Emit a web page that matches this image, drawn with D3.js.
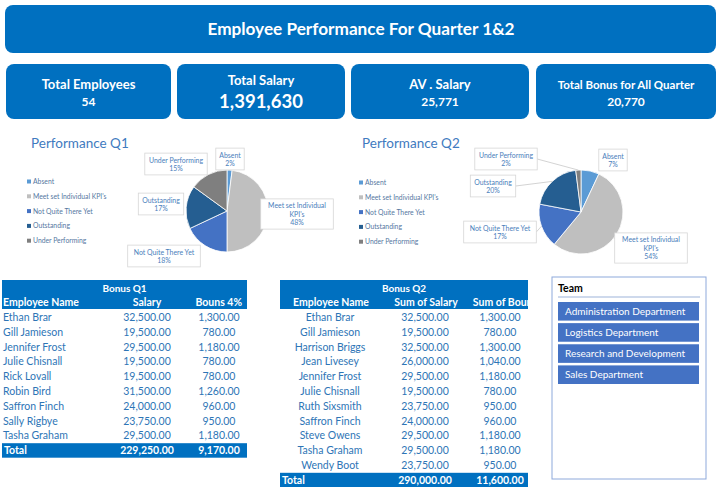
<!DOCTYPE html>
<html><head><meta charset="utf-8">
<script src="https://cdn.jsdelivr.net/npm/d3@7"></script>
<style>body{margin:0;background:#fff}svg{display:block;font-family:Lato,"Open Sans",sans-serif}</style>
</head><body><svg id="c" width="720" height="487"></svg>
<script>
// ---------- DATA ----------
const title = "Employee Performance For Quarter 1&2";
const kpiLabels = ["Total Employees", "Total Salary", "AV . Salary", "Total Bonus for All Quarter"];
const kpiValues = [54, 1391630, 25771, 20770];

const categories = ["Absent", "Meet set Individual KPI's", "Not Quite There Yet", "Outstanding", "Under Performing"];
const q1Values = [2, 48, 18, 17, 15];
const q2Values = [7, 54, 17, 20, 2];

const q1Names = ["Ethan Brar","Gill Jamieson","Jennifer Frost","Julie Chisnall","Rick Lovall","Robin Bird","Saffron Finch","Sally Rigbye","Tasha Graham"];
const q1Salary = [32500,19500,29500,19500,19500,31500,24000,23750,29500];
const q1Bonus = [1300,780,1180,780,780,1260,960,950,1180];
const q1Headers = ["Employee Name","Salary","Bouns 4%"];

const q2Names = ["Ethan Brar","Gill Jamieson","Harrison Briggs","Jean Livesey","Jennifer Frost","Julie Chisnall","Ruth Sixsmith","Saffron Finch","Steve Owens","Tasha Graham","Wendy Boot"];
const q2Salary = [32500,19500,32500,26000,29500,19500,23750,24000,29500,29500,23750];
const q2Bonus = [1300,780,1300,1040,1180,780,950,960,1180,1180,950];
const q2Headers = ["Employee Name","Sum of Salary","Sum of Bouns"];

const teams = ["Administration Department","Logistics Department","Research and Development","Sales Department"];

// ---------- STYLE / LAYOUT ----------
const BLUE = "#0070C0";
const TXT = "#2E75B6";
const sliceColors = ["#5B9BD5","#BFBFBF","#4472C4","#255E91","#7F7F7F"];
const svg = d3.select("#c");
svg.append("rect").attr("width",720).attr("height",487).attr("fill","#fff");

// Title banner
svg.append("rect").attr("x",5).attr("y",5).attr("width",711).attr("height",48).attr("rx",8).attr("fill",BLUE);
svg.append("text").attr("x",361).attr("y",35).attr("text-anchor","middle").attr("fill","#fff")
  .attr("font-weight","bold").attr("font-size",17.2).text(title);

// KPI boxes
const kpiBoxes = [[6,165],[177,168],[351,178],[536,180]];
const fmtInt = d3.format(",");
kpiBoxes.forEach(([x,w],i)=>{
  svg.append("rect").attr("x",x).attr("y",64).attr("width",w).attr("height",55).attr("rx",8).attr("fill",BLUE);
  const cx = x + w/2;
  const big = i===1;
  svg.append("text").attr("x",cx).attr("y",big?85:89).attr("text-anchor","middle").attr("fill","#fff")
    .attr("font-weight","bold").attr("font-size",i===3?11.5:13).text(kpiLabels[i]);
  svg.append("text").attr("x",cx).attr("y",big?108:106).attr("text-anchor","middle").attr("fill","#fff")
    .attr("font-weight","bold").attr("font-size",big?18.5:12).text(fmtInt(kpiValues[i]));
});

// ---------- PIES ----------
function drawPie(opts){
  const {values, cx, cy, r, titleText, titleX, legendX, legendY, labelOffsets, leaders} = opts;
  svg.append("text").attr("x",titleX).attr("y",148).attr("fill","#3F7BC0").attr("font-size",13.5).text(titleText);
  // legend
  const lg = svg.append("g");
  categories.forEach((c,i)=>{
    const y = legendY + i*14.8;
    lg.append("rect").attr("x",legendX).attr("y",y-2.5).attr("width",4).attr("height",4).attr("fill",sliceColors[i]);
    lg.append("text").attr("x",legendX+6).attr("y",y+2).attr("font-size",6.8).attr("fill","#55779F").text(c);
  });
  const pie = d3.pie().sort(null).value(d=>d);
  const arcs = pie(values);
  const arc = d3.arc().innerRadius(0).outerRadius(r);
  const g = svg.append("g").attr("transform",`translate(${cx},${cy})`);
  g.selectAll("path").data(arcs).join("path").attr("d",arc)
    .attr("fill",(d,i)=>sliceColors[i]).attr("stroke","#fff").attr("stroke-width",0.8);
  // labels
  arcs.forEach((a,i)=>{
    const [dx,dy] = labelOffsets[i];
    const lines = i===1 ? ["Meet set Individual","KPI's",values[i]+"%"] : [categories[i], values[i]+"%"];
    const lh = 8.4;
    const widths = lines.map(t=>t.length*3.4);
    const bw = Math.max(...widths)+8, bh = lines.length*lh+5;
    if(leaders[i]){
      const mid = (a.startAngle+a.endAngle)/2;
      const px = Math.sin(mid)*r, py = -Math.cos(mid)*r;
      const ex = dx + leaders[i][0]*bw/2, ey = dy + leaders[i][1]*bh/2;
      g.append("line").attr("x1",px).attr("y1",py).attr("x2",ex).attr("y2",ey).attr("stroke","#C8C8C8").attr("stroke-width",0.8);
    }
    g.append("rect").attr("x",dx-bw/2).attr("y",dy-bh/2).attr("width",bw).attr("height",bh)
      .attr("fill","#fff").attr("stroke","#D6D6D6").attr("stroke-width",0.8);
    lines.forEach((t,j)=>{
      g.append("text").attr("x",dx).attr("y",dy-bh/2+2.5+lh*(j+1)-1.5).attr("text-anchor","middle")
        .attr("font-size",6.9).attr("fill","#4A7EBB").text(t);
    });
  });
}
drawPie({values:q1Values, cx:227, cy:211, r:41, titleText:"Performance Q1", titleX:31, legendX:27, legendY:182,
  labelOffsets:[[3,-52],[70,3],[-63,45],[-66,-7],[-51,-47]], leaders:[null,null,null,null,null]});
drawPie({values:q2Values, cx:581, cy:212, r:42, titleText:"Performance Q2", titleX:362, legendX:359, legendY:183,
  labelOffsets:[[32,-52],[70,36],[-81,20],[-88,-26],[-75,-53]], leaders:[null,[-1,-0.6],[1,0],[1,0],[1,0]]});

// ---------- TABLES ----------
const fmt2 = d3.format(",.2f");
function drawTable(o){
  const {x0, w, caption, headers, names, salary, bonus, nameX, nameAnchor, salX, bonX, hdrX, rowH} = o;
  const totalSal = d3.sum(salary), totalBon = d3.sum(bonus);
  const g = svg.append("g");
  g.append("rect").attr("x",x0).attr("y",280).attr("width",w).attr("height",29).attr("fill",BLUE);
  g.append("text").attr("x",x0+w/2).attr("y",292).attr("text-anchor","middle").attr("fill","#fff")
    .attr("font-weight","bold").attr("font-size",10).text(caption);
  const clipId = "clip"+caption.replace(/\s/g,"");
  svg.append("clipPath").attr("id",clipId).append("rect").attr("x",o.clipX).attr("y",280).attr("width",x0+w-o.clipX).attr("height",29);
  headers.forEach((h,i)=>{
    const t = g.append("text").attr("x",hdrX[i][0]).attr("y",306).attr("text-anchor",hdrX[i][1]).attr("fill","#fff")
      .attr("font-weight","bold").attr("font-size",10.5).text(h);
    if(i===2) t.attr("clip-path",`url(#${clipId})`);
  });
  const y0 = 317;
  names.forEach((n,i)=>{
    const y = y0 + i*rowH + 4;
    g.append("text").attr("x",nameX).attr("y",y).attr("text-anchor",nameAnchor).attr("fill",TXT).attr("font-size",10.5).text(n);
    g.append("text").attr("x",salX).attr("y",y).attr("text-anchor","middle").attr("fill",TXT).attr("font-size",10.5).text(fmt2(salary[i]));
    g.append("text").attr("x",bonX).attr("y",y).attr("text-anchor","middle").attr("fill",TXT).attr("font-size",10.5).text(fmt2(bonus[i]));
  });
  const ty = y0 + names.length*rowH;
  g.append("rect").attr("x",x0).attr("y",ty-7).attr("width",w).attr("height",14.5).attr("fill",BLUE);
  g.append("text").attr("x",x0+2).attr("y",ty+4).attr("fill","#fff").attr("font-weight","bold").attr("font-size",10.5).text("Total");
  g.append("text").attr("x",salX).attr("y",ty+4).attr("text-anchor","middle").attr("fill","#fff").attr("font-weight","bold").attr("font-size",10.5).text(fmt2(totalSal));
  g.append("text").attr("x",bonX).attr("y",ty+4).attr("text-anchor","middle").attr("fill","#fff").attr("font-weight","bold").attr("font-size",10.5).text(fmt2(totalBon));
}
drawTable({x0:2, w:245, caption:"Bonus Q1", headers:q1Headers, names:q1Names, salary:q1Salary, bonus:q1Bonus,
  nameX:3, nameAnchor:"start", salX:147, bonX:219, hdrX:[[3,"start"],[147,"middle"],[242,"end"]], rowH:14.8, clipX:0});
drawTable({x0:280, w:248, caption:"Bonus Q2", headers:q2Headers, names:q2Names, salary:q2Salary, bonus:q2Bonus,
  nameX:330, nameAnchor:"middle", salX:425, bonX:500, hdrX:[[331,"middle"],[426,"middle"],[505,"middle"]], rowH:14.8, clipX:468});

// ---------- SLICER ----------
const sg = svg.append("g");
sg.append("rect").attr("x",552).attr("y",277).attr("width",154).attr("height",202).attr("fill","#fff").attr("stroke","#8EA9DB").attr("stroke-width",1);
sg.append("text").attr("x",558).attr("y",292).attr("font-weight","bold").attr("font-size",10.5).attr("fill","#000").text("Team");
sg.append("line").attr("x1",558).attr("x2",700).attr("y1",297).attr("y2",297).attr("stroke","#9DB3D9").attr("stroke-width",1);
const by = d3.scaleBand().domain(teams).range([302,384]).paddingInner(0.12);
teams.forEach(t=>{
  sg.append("rect").attr("x",558).attr("y",by(t)).attr("width",141).attr("height",by.bandwidth()).attr("fill","#4472C4");
  sg.append("text").attr("x",565).attr("y",by(t)+by.bandwidth()/2+3.5).attr("fill","#fff").attr("font-size",10).text(t);
});
</script></body></html>
